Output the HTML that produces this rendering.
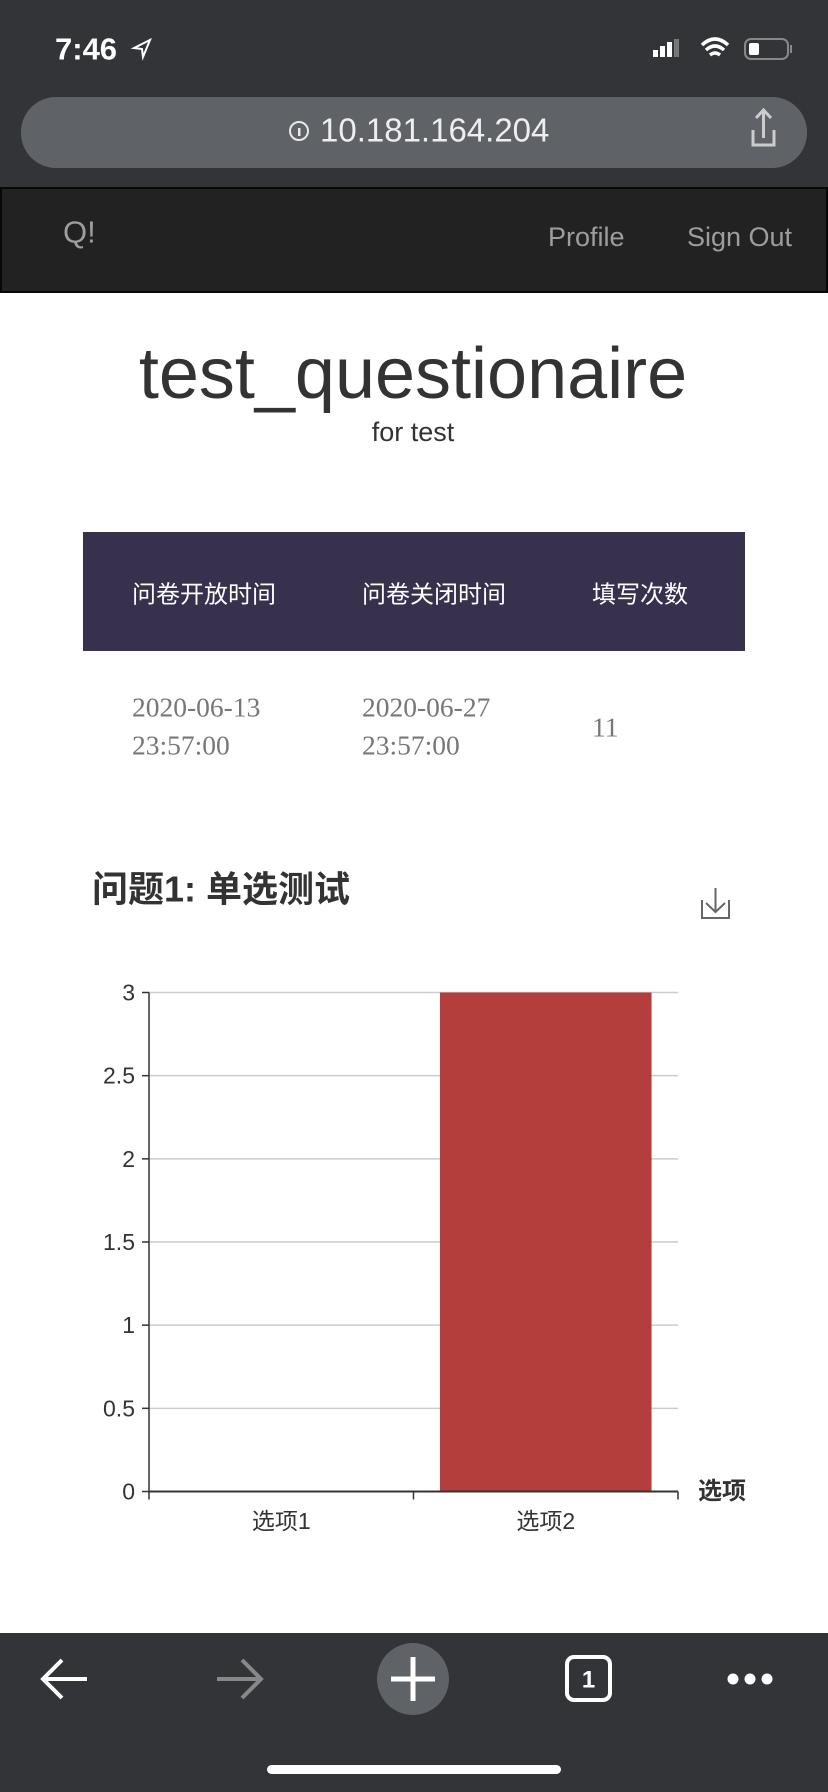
<!DOCTYPE html>
<html><head><meta charset="utf-8">
<style>
html,body{margin:0;padding:0;background:#fff;}
svg{display:block;}
text{font-family:"Liberation Sans","Noto Sans CJK SC",sans-serif;}
</style></head>
<body>
<svg id="page" width="828" height="1792" viewBox="0 0 828 1792" xmlns="http://www.w3.org/2000/svg">
  <rect x="0" y="0" width="828" height="188" fill="#333437"/>
  <text x="55" y="49" font-size="31" fill="#fff" font-weight="bold" dominant-baseline="central">7:46</text>
  <path d="M134 48 L150 40 L143 57 L142 49 Z" fill="none" stroke="#fff" stroke-width="2"/>
  <g fill="#fff">
    <rect x="653" y="50" width="5" height="7"/><rect x="660" y="46" width="5" height="11"/><rect x="667" y="42" width="5" height="15"/><rect x="674" y="39" width="5" height="18" fill="#777"/>
  </g>
  <path d="M702 45 Q715 33 728 45 M706 50 Q715 42 724 50 M710 55 Q715 51 720 55" stroke="#fff" stroke-width="3.5" fill="none"/>
  <g>
    <rect x="745" y="39" width="43" height="20" rx="6" fill="none" stroke="#888" stroke-width="2"/>
    <rect x="749" y="43" width="10" height="12" rx="2" fill="#fff"/>
    <rect x="790" y="45" width="2" height="8" fill="#888"/>
  </g>
  <rect x="21" y="97" width="786" height="71" rx="35" fill="#5f6266"/>
  <circle cx="299" cy="131" r="9" fill="none" stroke="#e8e8e8" stroke-width="2"/>
  <rect x="298" y="128" width="2.5" height="8" fill="#e8e8e8"/>
  <text x="320" y="130" font-size="33" fill="#eee" dominant-baseline="central">10.181.164.204</text>
  <g stroke="#ccc" stroke-width="3" fill="none">
    <path d="M753 130 L753 145 L774 145 L774 130"/><path d="M763.5 138 L763.5 111 M756 118 L763.5 110 L771 118"/>
  </g>
  <rect x="1" y="188" width="826" height="104" fill="#222" stroke="#080808" stroke-width="2"/>
  <text x="63" y="232" font-size="31" fill="#9d9d9d" dominant-baseline="central">Q!</text>
  <text x="548" y="237" font-size="27" fill="#9d9d9d" dominant-baseline="central">Profile</text>
  <text x="687" y="237" font-size="27" fill="#9d9d9d" dominant-baseline="central">Sign Out</text>
  <text x="413" y="374" font-size="72" fill="#333" text-anchor="middle" dominant-baseline="central">test_questionaire</text>
  <text x="413" y="432" font-size="27" fill="#333" text-anchor="middle" dominant-baseline="central">for test</text>
  <rect x="83" y="532" width="662" height="119" fill="#37314e"/>
  <text x="132" y="595" font-size="24" fill="#fff" dominant-baseline="central">问卷开放时间</text>
  <text x="362" y="595" font-size="24" fill="#fff" dominant-baseline="central">问卷关闭时间</text>
  <text x="592" y="595" font-size="24" fill="#fff" dominant-baseline="central">填写次数</text>
  <g font-size="27.5" fill="#777">
    <text x="132" y="707" dominant-baseline="central" style="font-family:'Liberation Serif',serif">2020-06-13</text>
    <text x="132" y="745" dominant-baseline="central" style="font-family:'Liberation Serif',serif">23:57:00</text>
    <text x="362" y="707" dominant-baseline="central" style="font-family:'Liberation Serif',serif">2020-06-27</text>
    <text x="362" y="745" dominant-baseline="central" style="font-family:'Liberation Serif',serif">23:57:00</text>
    <text x="592" y="727" dominant-baseline="central" style="font-family:'Liberation Serif',serif">11</text>
  </g>
  <text x="92" y="889" font-size="36" font-weight="bold" fill="#333" dominant-baseline="central">问题1: 单选测试</text>
  <g stroke="#666" stroke-width="2" fill="none">
    <path d="M702 900 L702 918 L729 918 L729 900"/><path d="M715.5 888 L715.5 912 M706 903 L715.5 912 L725 903"/>
  </g>
  <g id="chart"></g>
  <rect x="0" y="1633" width="828" height="159" fill="#333437"/>
  <path d="M43 1679 L87 1679 M62 1660 L43 1679 L62 1698" stroke="#fff" stroke-width="4" fill="none"/>
  <path d="M217 1679 L261 1679 M242 1660 L261 1679 L242 1698" stroke="#888" stroke-width="4" fill="none"/>
  <g>
    <circle cx="413" cy="1679" r="36" fill="#5f6266"/>
    <path d="M391 1679 L435 1679 M413 1657 L413 1701" stroke="#fff" stroke-width="5"/>
  </g>
  <g>
    <rect x="567" y="1657" width="43" height="43" rx="7" fill="none" stroke="#fff" stroke-width="4"/>
    <text x="588.5" y="1680" font-size="24" font-weight="bold" fill="#fff" text-anchor="middle" dominant-baseline="central">1</text>
  </g>
  <g fill="#fff">
    <circle cx="733" cy="1679" r="5.5"/><circle cx="750" cy="1679" r="5.5"/><circle cx="767" cy="1679" r="5.5"/>
  </g>
  <rect x="267" y="1765" width="294" height="9" rx="4.5" fill="#fff"/>
</svg>
<script>
const categories = ["选项1", "选项2"];
const values = [0, 3];
const yTicks = [0, 0.5, 1, 1.5, 2, 2.5, 3];
const yTickLabels = ["0", "0.5", "1", "1.5", "2", "2.5", "3"];
const xAxisTitle = "选项";

const NS = "http://www.w3.org/2000/svg";
const chart = document.getElementById("chart");
const X0 = 149, X1 = 678, Y0 = 1491.5, Y1 = 992.5, YMAX = 3;
const yScale = v => Y0 - (v / YMAX) * (Y0 - Y1);
const band = (X1 - X0) / categories.length;
const xBand = i => X0 + i * band;
function mk(tag, attrs, parent) {
  const e = document.createElementNS(NS, tag);
  for (const k in attrs) e.setAttribute(k, attrs[k]);
  (parent || chart).appendChild(e);
  return e;
}
yTicks.forEach((t, i) => {
  const y = yScale(t);
  if (t !== 0) {
    const g = mk("line", {x1: X0, x2: X1, y1: y, y2: y, stroke: "#ccc", "stroke-width": 1.5});
    
    
  }
  mk("line", {x1: X0 - 7, x2: X0, y1: y, y2: y, stroke: "#333", "stroke-width": 1.5});
  const lb = mk("text", {x: X0 - 14, y: y, "font-size": 23, fill: "#333", "text-anchor": "end", "dominant-baseline": "central"});
  lb.textContent = yTickLabels[i];
  
  
});
values.forEach((v, i) => {
  const x = xBand(i) + band * 0.1;
  const w = band * 0.8;
  if (v > 0) {
    const r = mk("rect", {x: x, y: yScale(v), width: w, height: Y0 - yScale(v), fill: "#b33e3b"});
    
    
  }
  const lb = mk("text", {x: xBand(i) + band / 2, y: 1521, "font-size": 23, fill: "#333", "text-anchor": "middle", "dominant-baseline": "central"});
  lb.textContent = categories[i];
  
  
});
for (let i = 0; i <= categories.length; i++) {
  mk("line", {x1: xBand(i), x2: xBand(i), y1: Y0, y2: Y0 + 8, stroke: "#333", "stroke-width": 1.5});
}
const ya = mk("line", {x1: X0, x2: X0, y1: Y1, y2: Y0, stroke: "#333", "stroke-width": 1.5});


const xa = mk("line", {x1: X0, x2: X1, y1: Y0, y2: Y0, stroke: "#333", "stroke-width": 2});


const xt = mk("text", {x: X1 + 20, y: Y0, "font-size": 24, "font-weight": "bold", fill: "#333", "dominant-baseline": "central"});
xt.textContent = xAxisTitle;


</script>
</body></html>
